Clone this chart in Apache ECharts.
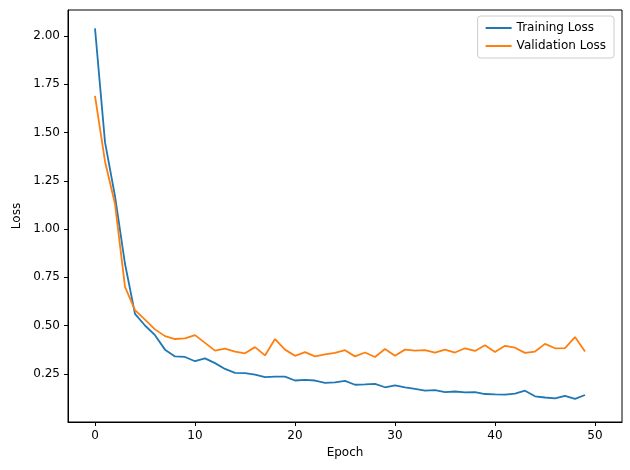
<!DOCTYPE html>
<html>
<head>
  <meta charset="utf-8" />
  <script src="https://cdn.jsdelivr.net/npm/echarts@6/dist/echarts.min.js"></script>
</head>
<body style="margin:0">
  <div id="main" style="width:630px;height:470px;"></div>
  <script type="text/javascript">
    var trainLoss = [2.04, 1.45, 1.17, 0.82, 0.56, 0.50, 0.45, 0.375, 0.34, 0.337,
      0.315, 0.33, 0.305, 0.275, 0.255, 0.253, 0.245, 0.233, 0.235, 0.235,
      0.215, 0.218, 0.215, 0.203, 0.205, 0.213, 0.193, 0.195, 0.198, 0.18,
      0.19, 0.18, 0.172, 0.163, 0.165, 0.155, 0.158, 0.153, 0.155, 0.145,
      0.143, 0.142, 0.147, 0.162, 0.133, 0.127, 0.122, 0.135, 0.12, 0.14];
    var valLoss = [1.69, 1.35, 1.13, 0.70, 0.58, 0.53, 0.48, 0.445, 0.43, 0.433,
      0.45, 0.41, 0.37, 0.38, 0.365, 0.356, 0.388, 0.345, 0.43, 0.375,
      0.343, 0.362, 0.34, 0.35, 0.358, 0.372, 0.34, 0.36, 0.337, 0.378,
      0.343, 0.375, 0.37, 0.372, 0.36, 0.375, 0.36, 0.382, 0.368, 0.398,
      0.363, 0.395, 0.385, 0.358, 0.365, 0.405, 0.382, 0.383, 0.44, 0.365];
    var xTicks = [0, 10, 20, 30, 40, 50];
    var yTicks = [0.25, 0.5, 0.75, 1.0, 1.25, 1.5, 1.75, 2.0];

    var pairs = function (arr) { return arr.map(function (v, i) { return [i, v]; }); };
    var font = 'DejaVu Sans';
    var myChart = echarts.init(document.getElementById('main'));
    var axisCommon = {
      axisLine: { onZero: false, lineStyle: { color: '#000', width: 1 } },
      axisTick: { show: true, length: 4, lineStyle: { color: '#000' } },
      axisLabel: { color: '#000', fontFamily: font, fontSize: 12 },
      splitLine: { show: false },
      nameLocation: 'middle',
      nameTextStyle: { color: '#000', fontFamily: font, fontSize: 12 }
    };
    var option = {
      animation: false,
      grid: { left: 68, right: 8, top: 10, bottom: 48, show: true, borderColor: '#000', borderWidth: 1 },
      legend: {
        right: 16, top: 16, orient: 'vertical', itemGap: 6,
        backgroundColor: '#fff', borderColor: '#ccc', borderWidth: 1, borderRadius: 3,
        padding: [6, 8, 6, 8], itemWidth: 26, itemHeight: 2,
        icon: 'rect',
        textStyle: { fontFamily: font, fontSize: 12, color: '#000' },
        data: ['Training Loss', 'Validation Loss']
      },
      xAxis: Object.assign({}, axisCommon, {
        type: 'value', min: -2.7, max: 52.7, name: 'Epoch', nameGap: 24,
        axisTick: Object.assign({}, axisCommon.axisTick, { customValues: xTicks }),
        axisLabel: Object.assign({}, axisCommon.axisLabel, { customValues: xTicks, margin: 8 })
      }),
      yAxis: Object.assign({}, axisCommon, {
        type: 'value', min: 0, max: 2.135, name: 'Loss', nameGap: 44,
        axisTick: Object.assign({}, axisCommon.axisTick, { customValues: yTicks }),
        axisLabel: Object.assign({}, axisCommon.axisLabel, {
          customValues: yTicks, margin: 8,
          formatter: function (v) { return v.toFixed(2); }
        })
      }),
      series: [
        { name: 'Training Loss', type: 'line', data: pairs(trainLoss), showSymbol: false,
          lineStyle: { color: '#1f77b4', width: 1.8 }, itemStyle: { color: '#1f77b4' } },
        { name: 'Validation Loss', type: 'line', data: pairs(valLoss), showSymbol: false,
          lineStyle: { color: '#ff7f0e', width: 1.8 }, itemStyle: { color: '#ff7f0e' } }
      ]
    };
    myChart.setOption(option);
  </script>
</body>
</html>
